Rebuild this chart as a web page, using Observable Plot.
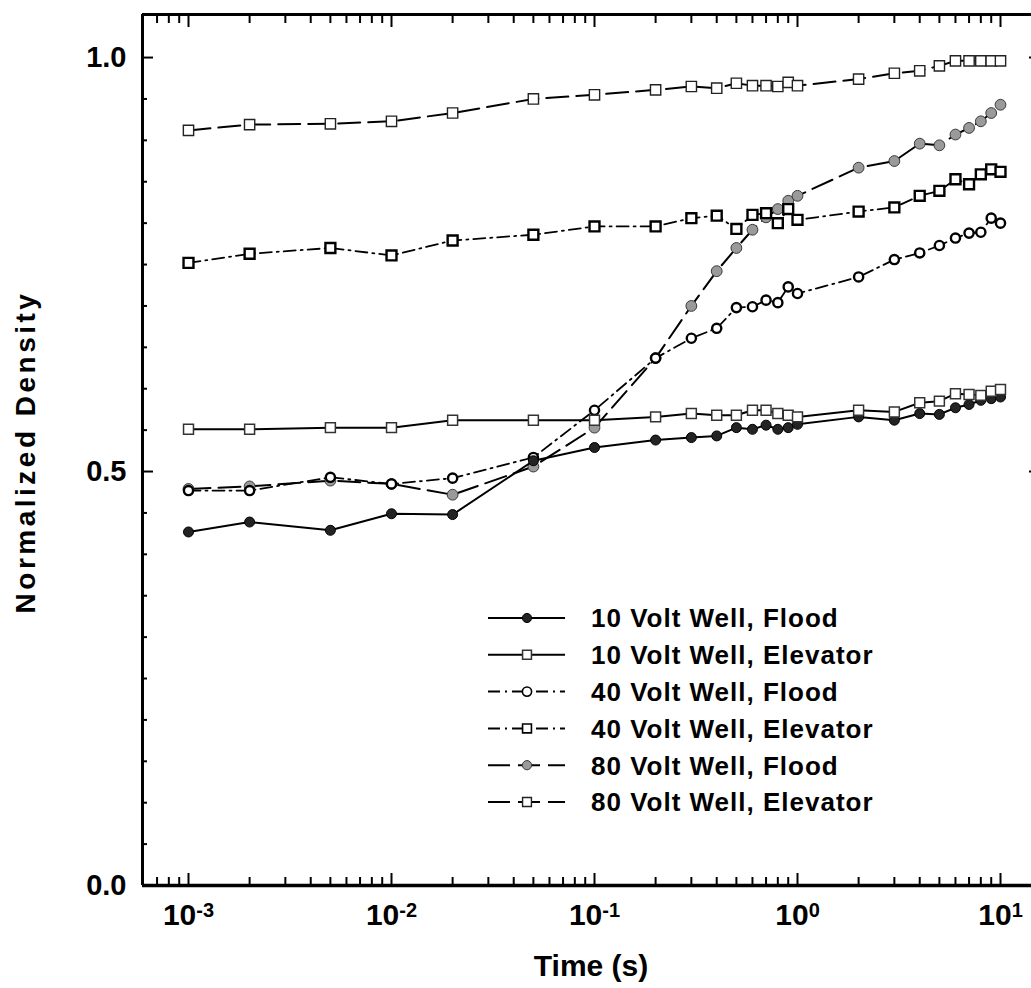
<!DOCTYPE html>
<html>
<head>
<meta charset="utf-8">
<script src="https://cdn.jsdelivr.net/npm/d3@7"></script>
<script src="https://cdn.jsdelivr.net/npm/@observablehq/plot@0.6"></script>
<style>
  body { margin: 0; background: #fff; }
  #wrap { position: relative; width: 1031px; height: 988px; overflow: hidden; font-family: "Liberation Sans", Arial, sans-serif; }
  #legend { position: absolute; left: 480px; top: 596px; }
</style>
</head>
<body>
<div id="wrap"></div>
<script>
// ---- data ----
const times = [0.001, 0.002, 0.005, 0.01, 0.02, 0.05, 0.1, 0.2, 0.3, 0.4, 0.5, 0.6, 0.7, 0.8, 0.9, 1, 2, 3, 4, 5, 6, 7, 8, 9, 10];

const flood10 = [0.427, 0.439, 0.429, 0.449, 0.448, 0.513, 0.529, 0.538, 0.541, 0.543, 0.553, 0.551, 0.556, 0.551, 0.553, 0.557, 0.566, 0.562, 0.570, 0.569, 0.577, 0.581, 0.586, 0.588, 0.590];
const elev10  = [0.551, 0.551, 0.553, 0.553, 0.562, 0.562, 0.562, 0.566, 0.570, 0.568, 0.568, 0.574, 0.574, 0.570, 0.568, 0.566, 0.574, 0.572, 0.583, 0.585, 0.594, 0.593, 0.592, 0.597, 0.599];
const flood40 = [0.477, 0.477, 0.493, 0.485, 0.492, 0.517, 0.574, 0.637, 0.661, 0.673, 0.698, 0.699, 0.707, 0.704, 0.723, 0.715, 0.735, 0.756, 0.764, 0.773, 0.782, 0.788, 0.789, 0.806, 0.800];
const elev40  = [0.752, 0.763, 0.770, 0.761, 0.779, 0.786, 0.796, 0.796, 0.806, 0.809, 0.793, 0.810, 0.812, 0.800, 0.817, 0.804, 0.814, 0.819, 0.833, 0.839, 0.853, 0.847, 0.859, 0.865, 0.862];
const flood80 = [0.479, 0.482, 0.489, 0.485, 0.472, 0.506, 0.553, 0.637, 0.700, 0.742, 0.770, 0.792, 0.807, 0.817, 0.827, 0.833, 0.867, 0.875, 0.896, 0.894, 0.907, 0.915, 0.923, 0.933, 0.943];
const elev80  = [0.912, 0.919, 0.920, 0.923, 0.933, 0.950, 0.955, 0.961, 0.965, 0.963, 0.969, 0.966, 0.966, 0.965, 0.970, 0.966, 0.974, 0.981, 0.984, 0.990, 0.996, 0.996, 0.996, 0.996, 0.996];

const seriesNames = ["10 Volt Well, Flood", "10 Volt Well, Elevator", "40 Volt Well, Flood", "40 Volt Well, Elevator", "80 Volt Well, Flood", "80 Volt Well, Elevator"];

const xMajor = [1e-3, 1e-2, 1e-1, 1, 10];
const xMinor = [7e-4, 8e-4, 9e-4].concat(...[1e-3, 1e-2, 1e-1, 1].map(d => [2, 3, 4, 5, 6, 7, 8, 9].map(k => +(k * d).toPrecision(3))));
const yMajor = [0, 0.5, 1.0];
const yMinor = [0.05, 0.1, 0.15, 0.2, 0.25, 0.3, 0.35, 0.4, 0.45, 0.55, 0.6, 0.65, 0.7, 0.75, 0.8, 0.85, 0.9, 0.95];
const xDomain = [10 ** -3.2266, 10 ** 1.1527];
const yDomain = [0, 1.052];

// ---- styles ----
const styles = [
  {values: flood10, dash: null, symbol: "circle", r: 5, fill: "#232323", stroke: "#000", sw: 1, lw: 2},
  {values: elev10, dash: null, symbol: "square", r: 5.6, fill: "#fff", stroke: "#333", sw: 1.5, lw: 2},
  {values: flood40, dash: "12,5,2,5", symbol: "circle", r: 4.6, fill: "#fff", stroke: "#000", sw: 2.4, lw: 1.8},
  {values: elev40, dash: "12,5,2,5", symbol: "square", r: 5.6, fill: "#fff", stroke: "#000", sw: 2.4, lw: 1.8},
  {values: flood80, dash: "22,8", symbol: "circle", r: 5.4, fill: "#9a9a9a", stroke: "#3a3a3a", sw: 1, lw: 2},
  {values: elev80, dash: "22,8", symbol: "square", r: 5.8, fill: "#fff", stroke: "#222", sw: 1.4, lw: 2}
];

const rows = styles.map((s, i) => times.map((t, j) => ({time: t, value: s.values[j], series: seriesNames[i]})));

const drawOrder = [4, 2, 3, 5, 0, 1];
const seriesMarks = drawOrder.flatMap(i => {
  const s = styles[i];
  return [
    Plot.line(rows[i], {x: "time", y: "value", stroke: "#000", strokeWidth: s.lw, strokeDasharray: s.dash}),
    Plot.dot(rows[i], {x: "time", y: "value", symbol: s.symbol, r: s.r, fill: s.fill, stroke: s.stroke, strokeWidth: s.sw})
  ];
});

const chart = Plot.plot({
  width: 1031,
  height: 988,
  marginLeft: 142,
  marginRight: 0,
  marginTop: 14,
  marginBottom: 103,
  style: {fontFamily: "'Liberation Sans', Arial, sans-serif", background: "#fff", color: "#000"},
  x: {type: "log", domain: xDomain},
  y: {domain: yDomain},
  marks: [
    ...seriesMarks,
    // frame (left, bottom, top)
    Plot.ruleX([xDomain[0]], {strokeWidth: 3}),
    Plot.ruleY([yDomain[0]], {strokeWidth: 3.5}),
    Plot.ruleY([yDomain[1]], {strokeWidth: 3}),
    // inward ticks
    Plot.axisX(xMajor, {anchor: "bottom", tickSize: -12, strokeWidth: 2, fill: "none", label: null}),
    Plot.axisX(xMinor, {anchor: "bottom", tickSize: -8, strokeWidth: 2, fill: "none", label: null}),
    Plot.axisX(xMajor, {anchor: "top", tickSize: -12, strokeWidth: 2, fill: "none", label: null}),
    Plot.axisX(xMinor, {anchor: "top", tickSize: -8, strokeWidth: 2, fill: "none", label: null}),
    Plot.axisY(yMajor, {anchor: "left", tickSize: -11, strokeWidth: 2, fill: "none", label: null}),
    Plot.axisY(yMinor, {anchor: "left", tickSize: -5, strokeWidth: 2, fill: "none", label: null}),
    Plot.axisY([0.5, 1.0], {anchor: "right", tickSize: -3, strokeWidth: 2, fill: "none", label: null}),
    // tick labels
    Plot.axisX(xMajor, {anchor: "bottom", tickSize: 0, tickPadding: 18, fontSize: 30, fontWeight: "bold",
      tickFormat: d => "10^" + Math.round(Math.log10(d)), label: null}),
    Plot.axisY(yMajor, {anchor: "left", tickSize: 0, tickPadding: 16, fontSize: 29, fontWeight: "bold",
      tickFormat: d3.format(".1f"), label: null}),
    // axis titles
    Plot.text(["Time (s)"], {frameAnchor: "bottom", dx: 4, dy: 81, fontSize: 30, fontWeight: "bold", lineAnchor: "middle"}),
    Plot.text(["Normalized Density"], {frameAnchor: "left", dx: -116, dy: 2, rotate: -90, fontSize: 28, fontWeight: "bold", lineAnchor: "middle", textAnchor: "middle"})
  ]
});

// superscripts for the x tick labels
d3.select(chart).selectAll('g[aria-label="x-axis tick label"] text').each(function () {
  const parts = this.textContent.split("^");
  if (parts.length !== 2) return;
  const t = d3.select(this);
  t.text(null);
  t.append("tspan").text(parts[0]);
  t.append("tspan").attr("font-size", 20).attr("dy", -8).text(parts[1]);
});
d3.select(chart).selectAll('g[aria-label="text"] text').filter(function () { return this.textContent === "Normalized Density"; })
  .attr("letter-spacing", 3.5);

const wrap = document.getElementById("wrap");
wrap.appendChild(chart);

// ---- legend ----
const rowH = 36.8;
const leg = d3.select(wrap).append("svg").attr("id", "legend").attr("width", 440).attr("height", 230);
styles.forEach((s, i) => {
  const g = leg.append("g").attr("transform", `translate(0,${22 + i * rowH})`);
  g.append("line").attr("x1", 8).attr("x2", 85).attr("y1", 0).attr("y2", 0)
    .attr("stroke", "#000").attr("stroke-width", 2).attr("stroke-dasharray", s.dash);
  const sym = d3.symbol(s.symbol === "circle" ? d3.symbolCircle : d3.symbolSquare, (s.symbol === "circle" ? 4.6 : 5) ** 2 * Math.PI);
  g.append("path").attr("d", sym()).attr("transform", "translate(47,0)")
    .attr("fill", s.fill).attr("stroke", s.stroke).attr("stroke-width", Math.min(s.sw, 1.6));
  g.append("text").attr("x", 111).attr("y", 0).attr("dy", "0.36em")
    .attr("font-size", 26).attr("font-weight", "bold").attr("letter-spacing", 1.0)
    .attr("font-family", "'Liberation Sans', Arial, sans-serif").text(seriesNames[i]);
});
</script>
</body>
</html>
